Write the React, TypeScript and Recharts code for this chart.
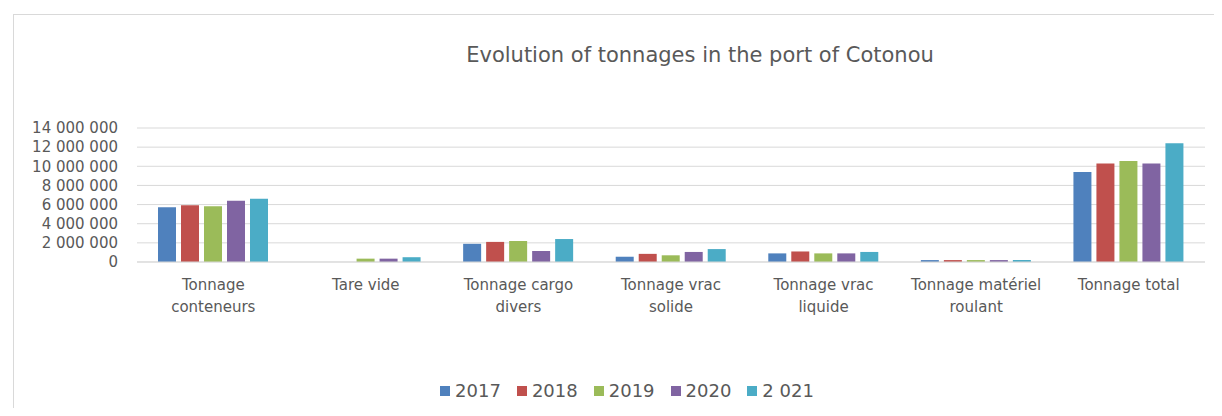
import { BarChart, Bar, XAxis, YAxis, CartesianGrid } from 'recharts'

const CATEGORIES = [
  'Tonnage conteneurs',
  'Tare vide',
  'Tonnage cargo divers',
  'Tonnage vrac solide',
  'Tonnage vrac liquide',
  'Tonnage matériel roulant',
  'Tonnage total',
]

const Y2017 = [5730000, 0, 1900000, 550000, 900000, 200000, 9400000]
const Y2018 = [5940000, 0, 2100000, 850000, 1100000, 200000, 10300000]
const Y2019 = [5830000, 350000, 2200000, 700000, 900000, 200000, 10550000]
const Y2020 = [6390000, 350000, 1150000, 1050000, 900000, 200000, 10300000]
const Y2021 = [6600000, 500000, 2400000, 1350000, 1050000, 200000, 12400000]

const Y_TICKS = [0, 2000000, 4000000, 6000000, 8000000, 10000000, 12000000, 14000000]

const SERIES = [
  { key: 'y2017', label: '2017', color: '#4F81BD', values: Y2017 },
  { key: 'y2018', label: '2018', color: '#C0504D', values: Y2018 },
  { key: 'y2019', label: '2019', color: '#9BBB59', values: Y2019 },
  { key: 'y2020', label: '2020', color: '#8064A2', values: Y2020 },
  { key: 'y2021', label: '2 021', color: '#4BACC6', values: Y2021 },
]

const data = CATEGORIES.map((name, i) => {
  const row: Record<string, string | number> = { name }
  for (const s of SERIES) row[s.key] = s.values[i]
  return row
})

const FONT = '"DejaVu Sans", sans-serif'
const TEXT = '#595959'

// space as thousands separator, like the French Excel output
const fmt = (v: number) => String(v).replace(/\B(?=(\d{3})+(?!\d))/g, ' ')

// greedy word wrap, max ~16 chars per line
function wrap(label: string, max = 16) {
  const lines: string[] = []
  let cur = ''
  for (const w of label.split(' ')) {
    const next = cur ? cur + ' ' + w : w
    if (next.length > max && cur) {
      lines.push(cur)
      cur = w
    } else {
      cur = next
    }
  }
  if (cur) lines.push(cur)
  return lines
}

function CategoryTick({ x, y, payload }: any) {
  const lines = wrap(payload.value)
  return (
    <text x={x} y={y} textAnchor="middle" fill={TEXT} fontSize={15} fontFamily={FONT}>
      {lines.map((l, i) => (
        <tspan key={i} x={x} dy={i === 0 ? 20 : 22}>{l}</tspan>
      ))}
    </text>
  )
}

export default function App() {
  return (
    <div style={{ margin: -8, position: 'relative', width: 1222, height: 416, background: '#fff', overflow: 'hidden' }}>
      <div
        style={{
          position: 'absolute', left: 13, top: 14, width: 1240, height: 430,
          border: '1px solid #d9d9d9', boxSizing: 'border-box',
        }}
      />
      <div
        style={{
          position: 'absolute', left: 0, width: 1400, top: 42, textAlign: 'center',
          fontFamily: FONT, fontSize: 21, color: TEXT, lineHeight: '26px',
        }}
      >
        Evolution of tonnages in the port of Cotonou
      </div>

      <div style={{ position: 'absolute', left: 0, top: 0 }}>
        <BarChart
          width={1222}
          height={416}
          data={data}
          margin={{ top: 128, right: 17, left: 0, bottom: 94 }}
          barSize={18}
          barGap={5}
        >
          <CartesianGrid vertical={false} stroke="#d9d9d9" />
          <XAxis
            dataKey="name"
            height={60}
            interval={0}
            tickLine={false}
            axisLine={{ stroke: '#d9d9d9' }}
            tick={<CategoryTick />}
          />
          <YAxis
            width={137}
            domain={[0, 14000000]}
            ticks={Y_TICKS}
            interval={0}
            axisLine={false}
            tickLine={false}
            tickMargin={13}
            tickFormatter={fmt}
            tick={{ fill: TEXT, fontSize: 15, fontFamily: FONT }}
          />
          {SERIES.map((s) => (
            <Bar key={s.key} dataKey={s.key} name={s.label} fill={s.color} isAnimationActive={false} />
          ))}
        </BarChart>
      </div>

      <div
        style={{
          position: 'absolute', top: 380, left: 0, width: 1254, display: 'flex', justifyContent: 'center',
          fontFamily: FONT, fontSize: 18, color: TEXT, gap: 16,
        }}
      >
        {SERIES.map((s) => (
          <div key={s.key} style={{ display: 'flex', alignItems: 'center', gap: 5 }}>
            <span style={{ width: 10, height: 10, background: s.color, display: 'inline-block' }} />
            <span>{s.label}</span>
          </div>
        ))}
      </div>
    </div>
  )
}
